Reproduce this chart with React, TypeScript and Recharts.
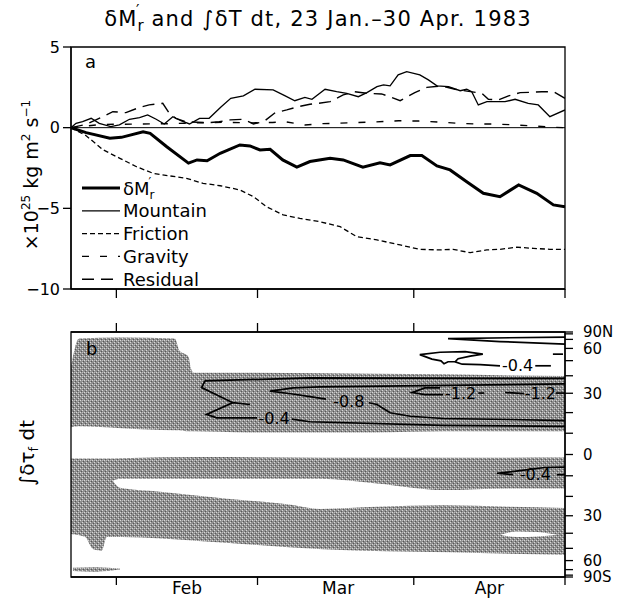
import React from 'react'
import {
  ComposedChart, Line, Area, Scatter, XAxis, YAxis,
  ReferenceLine, ReferenceArea, Legend,
} from 'recharts'

const FONT = "'DejaVu Sans', 'Liberation Sans', sans-serif"

// ── Panel a: days after 23 Jan 1983, values ×10^25 kg m² s⁻¹ ──────────────────

const dmDays = [0, 3, 7.7, 10, 14.3, 15.7, 19, 23.3, 25, 27, 29.6, 33.5, 35.5, 37.5, 39.5, 42, 44.8, 47.4, 51.4, 54, 57.9, 61.3, 63.3, 67.3, 69.6, 72.6, 75.2, 78.5, 81.8, 85.1, 88.8, 92.4, 95.7, 98]
const dmVals = [0, -0.31, -0.66, -0.6, -0.25, -0.35, -1.18, -2.2, -2.0, -2.05, -1.59, -1.07, -1.13, -1.38, -1.34, -2.0, -2.45, -2.1, -1.9, -2.0, -2.45, -2.17, -2.31, -1.73, -1.73, -2.37, -2.62, -3.35, -4.07, -4.28, -3.55, -4.07, -4.79, -4.9]

const mtDays = [0, 1, 2.3, 4, 5.6, 7.9, 9.6, 11.6, 13.6, 15.2, 16.9, 18.5, 20.2, 21.8, 23.5, 25.5, 27.4, 29.8, 31.7, 34.2, 36.5, 40.1, 42.5, 44.4, 46.4, 47.8, 50.4, 52.7, 54.7, 57, 58.7, 60.7, 62, 63.3, 64.9, 66.6, 69.2, 70.9, 72.6, 74.9, 77.2, 78.5, 79.5, 80.8, 82.5, 86.1, 88.1, 90.7, 92.7, 95, 98]
const mtVals = [0, 0.27, 0.37, 0.58, 0.27, 0.06, 0.17, 0.52, 0.62, 0.79, 0.52, 0.23, 0.68, 0.43, 0.23, 0.58, 0.58, 1.3, 1.82, 1.97, 2.38, 2.34, 1.97, 1.67, 1.88, 1.76, 2.38, 2.23, 2.13, 1.92, 2.17, 2.54, 2.65, 2.59, 3.27, 3.47, 3.27, 2.96, 2.59, 2.54, 2.29, 2.38, 2.23, 1.41, 1.61, 1.61, 1.76, 1.51, 1.41, 0.68, 1.1]

const frDays = [0, 3, 6.4, 9.7, 13, 16.3, 19.6, 22.9, 26.2, 29.6, 33.5, 36.2, 38.8, 42.1, 45.4, 49.4, 53.4, 56.7, 60.7, 65.3, 69.2, 73.2, 75.8, 79.2, 82.5, 85.1, 88.4, 91.7, 95, 98]
const frVals = [0, -0.5, -1.38, -1.9, -2.42, -2.83, -2.99, -3.14, -3.45, -3.6, -3.86, -4.28, -4.9, -5.41, -5.62, -5.83, -6.14, -6.76, -6.96, -7.27, -7.54, -7.58, -7.54, -7.75, -7.58, -7.54, -7.41, -7.48, -7.54, -7.54]

const gvDays = [0, 3, 6, 12, 20, 25, 30, 36, 40, 42.5, 46.4, 50, 55, 60, 65, 69, 73, 76.7, 80, 84, 88, 92, 96, 98]
const gvVals = [0, 0.1, 0.2, 0.22, 0.25, 0.3, 0.33, 0.3, 0.32, 0.37, 0.17, 0.25, 0.3, 0.35, 0.43, 0.41, 0.35, 0.27, 0.23, 0.23, 0.17, 0.1, 0.02, 0]

const rsDays = [0, 3, 6.3, 8.3, 10.9, 13.6, 15.5, 18.2, 19.5, 20.8, 22.8, 27.4, 29.4, 31.6, 34.2, 36.2, 38.2, 40.5, 42.8, 45.1, 47.4, 49.1, 51.4, 54, 56.3, 58.7, 61.6, 63.6, 65.3, 68.2, 70.6, 73.5, 76.2, 81.5, 82.8, 84.8, 86.8, 89.1, 91.4, 93.4, 95.7, 98]
const rsVals = [0, 0.2, 0.68, 0.99, 0.93, 1.26, 1.41, 1.51, 0.89, 0.58, 0.37, 0.31, 0.37, 0.48, 0.52, 0.23, 0.37, 0.93, 1.1, 1.3, 1.45, 1.51, 1.61, 2.03, 2.23, 2.13, 2.09, 1.88, 1.67, 2.17, 2.5, 2.59, 2.38, 2.13, 1.76, 1.72, 1.97, 2.17, 2.19, 2.23, 2.23, 1.82]

const aTicks = [-10, -5, 0, 5]

// month edges (1 Feb, 1 Mar, 1 Apr, 1 May) and label centres
const monthEdges = [9, 37, 68, 98]
const monthMids = [23, 53, 83]
const monthNames = ['Feb', 'Mar', 'Apr']

const legendNames = ['Mountain', 'Friction', 'Gravity', 'Residual']

// ── Panel b: latitudes in degrees, drawn on a sin(lat) axis ───────────────────

const latTicks = [90, 80, 70, 60, 50, 40, 30, 20, 10, 0, -10, -20, -30, -40, -50, -60, -70, -80, -90]
const latNames: Record<number, string> = { 90: '90N', 60: '60', 30: '30', 0: '0', [-30]: '30', [-60]: '60', [-90]: '90S' }

// shaded band, northern subtropics
const bnDays = [0, 1.6, 10, 20.6, 21.5, 23.3, 23.8, 24.4, 35, 50, 60, 74, 87, 98]
const bnHi = [45.1, 71.2, 72.7, 71.2, 58.0, 53.0, 44.4, 41.8, 41.8, 41.5, 41.2, 40.9, 40.2, 39.9]
const bnLo = [12.8, 13.3, 12.4, 11.4, 11.4, 10.9, 10.9, 10.9, 10.4, 10.4, 10.4, 10.9, 10.9, 10.9]

// shaded band, southern hemisphere
const bsDays = [0, 2.8, 4.4, 6.1, 7.1, 10, 26, 50, 75, 98]
const bsHi = [-1.9, -1.9, -1.9, -1.9, -1.9, -1.7, -1.2, -1.5, -1.5, -1.4]
const bsLo = [-40.5, -42.4, -50.7, -51.7, -42.4, -42.4, -45.1, -50.7, -53.0, -55.0]

// unshaded gap inside the southern band
const gpDays = [8.3, 9.7, 17.7, 31, 44, 49.4, 60.7, 73.8, 87, 98]
const gpHi = [-12.4, -11.4, -11.4, -11.4, -11.4, -11.4, -13.7, -16.9, -16.1, -16.1]
const gpLo = [-12.4, -15.8, -17.7, -21.2, -24.3, -26.4, -25.3, -24.5, -25.3, -25.9]

// small unshaded lens near 40S
const lnDays = [85.1, 88.5, 92.5, 96.6]
const lnHi = [-41, -38.9, -39.3, -41]
const lnLo = [-41, -42.4, -42, -41]

// thin shaded streak near the south pole
const skDays = [0.4, 5, 9.7]
const skHi = [-67.5, -67, -68.5]
const skLo = [-72, -73, -70]

// contour pieces [day, lat]
const cMid04a: [number, number][] = [[98, 38.4], [47.4, 38.7], [26.6, 36.9], [25.9, 33.1], [32.1, 25.0], [35.5, 24.1], [32.1, 25.0], [26.9, 19.1], [28.9, 17.4], [36.9, 17.4]]
const cMid04b: [number, number][] = [[43.8, 16.8], [47.4, 15.5], [73.8, 13.8], [98, 13.3]]
const cMid08a: [number, number][] = [[98, 35.2], [49.4, 33.5], [44.1, 32.9], [39.5, 31.2], [44, 29.6], [47.4, 28.2], [50.6, 26.9]]
const cMid08b: [number, number][] = [[59.1, 25.0], [60.7, 24.1], [63.3, 19.9], [67.3, 18.2], [73.8, 17.1], [87.1, 16.6], [98, 16.1]]
const cMid12a: [number, number][] = [[73.2, 32.9], [70.2, 32.9], [67.7, 30.4], [70.2, 29.3], [73.8, 29.3]]
const cMid12b: [number, number][] = [[80.8, 30.1], [82, 30.1]]
const cMid12c: [number, number][] = [[86.1, 30.4], [89.9, 29.8]]
const cMid12d: [number, number][] = [[96.2, 30.1], [98, 30.1]]
const cHigh04a: [number, number][] = [[76.2, 49.2], [74.8, 49.2], [74, 47.8], [73.4, 49.9], [71.6, 51.1], [69.2, 54.6], [73.2, 56.6], [78.2, 57.1], [81.7, 55.0], [79.2, 53.4], [76.8, 51.4], [76.2, 49.2], [77.6, 47.5], [81.2, 47.2], [85.1, 46.4]]
const cHigh04b: [number, number][] = [[92.1, 46.4], [95.2, 46.4]]
const cHigh04c: [number, number][] = [[95.6, 55.0], [97.6, 55.0]]
const cPole: [number, number][] = [[98, 73.5], [74.8, 71.2], [85.1, 67.2], [98, 64.3]]
const cSouth04a: [number, number][] = [[98, -5.9], [94, -6.1], [89.1, -7.6], [84.5, -8.8], [87.7, -9.5]]
const cSouth04b: [number, number][] = [[96.4, -9.5], [98, -9.5]]

const labelDays = [40.3, 55.1, 77.3, 93.1, 88.6, 92.1]
const labelLats = [17.2, 25.9, 29.9, 29.9, 47.1, -9.5]
const labelTexts = ['-0.4', '-0.8', '-1.2', '-1.2', '-0.4', '-0.4']

// ── helpers ───────────────────────────────────────────────────────────────────

const sinLat = (lat: number) => Math.sin((lat * Math.PI) / 180)
const zip = (days: number[], vals: number[]) => days.map((day, i) => ({ day, v: vals[i] }))
const band = (days: number[], lo: number[], hi: number[]) =>
  days.map((day, i) => ({ day, r: [sinLat(lo[i]), sinLat(hi[i])] }))
const path = (pts: [number, number][]) => pts.map(([day, lat]) => ({ day, s: sinLat(lat) }))

const contours = [cMid04a, cMid04b, cMid08a, cMid08b, cMid12a, cMid12b, cMid12c, cMid12d,
  cHigh04a, cHigh04b, cHigh04c, cPole, cSouth04a, cSouth04b]
const labelData = labelDays.map((day, i) => ({ day, s: sinLat(labelLats[i]), t: labelTexts[i] }))

const fmtSigned = (v: number) => (v < 0 ? `\u2212${-v}` : `${v}`)
const fmtLat = (v: number) => latNames[Math.round((Math.asin(Math.max(-1, Math.min(1, v))) * 180) / Math.PI)] ?? ''

const AX = { stroke: '#000', strokeWidth: 1.3 }

const STYLE = {
  dm: { strokeWidth: 3 },
  mt: { strokeWidth: 1.3 },
  fr: { strokeWidth: 1.3, strokeDasharray: '5 3' },
  gv: { strokeWidth: 1.4, strokeDasharray: '7 11' },
  rs: { strokeWidth: 1.4, strokeDasharray: '12 7' },
}

// ── Legend ────────────────────────────────────────────────────────────────────

function LegendBox() {
  const keys: (keyof typeof STYLE)[] = ['dm', 'mt', 'fr', 'gv', 'rs']
  return (
    <svg width={150} height={120} style={{ overflow: 'visible' }}>
      {keys.map((k, i) => {
        const y = 12 + i * 22.8
        return (
          <g key={k}>
            <line x1={2} x2={40} y1={y} y2={y} stroke="#000" {...STYLE[k]} />
            {i === 0 ? (
              <text x={43} y={y + 6.5} fontSize={18} fontFamily={FONT}>
                δM<tspan fontSize={12} dy={4}>r</tspan><tspan fontSize={12} dx={-6} dy={-13}>′</tspan>
              </text>
            ) : (
              <text x={43} y={y + 6.5} fontSize={18} fontFamily={FONT}>{legendNames[i - 1]}</text>
            )}
          </g>
        )
      })}
    </svg>
  )
}

// ── Panel a ───────────────────────────────────────────────────────────────────

function PanelA() {
  return (
    <ComposedChart width={624} height={301} margin={{ top: 47, right: 59, bottom: 0, left: 21 }}>
      <XAxis
        type="number" dataKey="day" domain={[0, 98]} ticks={monthEdges} interval={0}
        height={12} tickSize={9} tickFormatter={() => ''} axisLine={AX} tickLine={AX} allowDataOverflow
      />
      <YAxis
        type="number" domain={[-10, 5]} ticks={aTicks} interval={0} width={50}
        tickSize={8} tickMargin={3} tickFormatter={fmtSigned}
        tick={{ fontSize: 16, fill: '#000', fontFamily: FONT }}
        axisLine={AX} tickLine={AX} allowDataOverflow
      />
      <ReferenceLine y={0} stroke="#000" strokeWidth={1} />
      <Line data={zip(frDays, frVals)} dataKey="v" type="linear" stroke="#000" {...STYLE.fr} dot={false} isAnimationActive={false} />
      <Line data={zip(gvDays, gvVals)} dataKey="v" type="linear" stroke="#000" {...STYLE.gv} dot={false} isAnimationActive={false} />
      <Line data={zip(rsDays, rsVals)} dataKey="v" type="linear" stroke="#000" {...STYLE.rs} dot={false} isAnimationActive={false} />
      <Line data={zip(mtDays, mtVals)} dataKey="v" type="linear" stroke="#000" {...STYLE.mt} dot={false} isAnimationActive={false} />
      <Line data={zip(dmDays, dmVals)} dataKey="v" type="linear" stroke="#000" {...STYLE.dm} dot={false} isAnimationActive={false} />
      <ReferenceArea x1={0} x2={98} y1={-10} y2={5} fill="none" stroke="#000" strokeWidth={1.3} />
      <Legend
        content={() => <LegendBox />}
        layout="vertical" align="center" verticalAlign="middle"
        wrapperStyle={{ left: 80, top: 176, width: 150, height: 120 }}
      />
    </ComposedChart>
  )
}

// ── Panel b ───────────────────────────────────────────────────────────────────

function MonthTick(props: any) {
  const { x, y, payload } = props
  const v = payload.value
  if (monthEdges.includes(v)) {
    return <line x1={x} x2={x} y1={y} y2={y + 8} stroke="#000" strokeWidth={1.3} />
  }
  const i = monthMids.indexOf(v)
  return (
    <text x={x} y={y + 17} textAnchor="middle" fontSize={17} fontFamily={FONT} fill="#000">
      {monthNames[i]}
    </text>
  )
}

const Blank = () => <g />

function ContourLabel(props: any) {
  const { cx, cy, payload } = props
  return (
    <text x={cx} y={cy} dy="0.36em" textAnchor="middle" fontSize={16} fontFamily={FONT} fill="#000">
      {payload.t}
    </text>
  )
}

function PanelB() {
  const bottomTicks = [...monthEdges, ...monthMids].sort((a, b) => a - b)
  return (
    <ComposedChart width={624} height={301} margin={{ top: 20, right: 0, bottom: 0, left: 71 }}>
      <defs>
        <pattern id="stip" width="4" height="4" patternUnits="userSpaceOnUse">
          <rect width="4" height="4" fill="#8e8e8e" />
          <rect x="0" y="0" width="1" height="1" fill="#d8d8d8" />
          <rect x="2" y="2" width="1" height="1" fill="#d8d8d8" />
          <rect x="2" y="0" width="1" height="1" fill="#bcbcbc" />
          <rect x="1" y="3" width="1" height="1" fill="#575757" />
          <rect x="3" y="1" width="1" height="1" fill="#575757" />
        </pattern>
      </defs>
      <XAxis
        type="number" dataKey="day" domain={[0, 98]} ticks={bottomTicks} interval={0}
        height={24} tickSize={0} tickMargin={0} tickLine={false} tick={<MonthTick />}
        axisLine={AX} allowDataOverflow
      />
      <XAxis
        xAxisId="top" orientation="top" type="number" dataKey="day" domain={[0, 98]}
        ticks={[9, 37, 68]} interval={0} height={12} tickSize={9} tickFormatter={() => ''}
        axisLine={AX} tickLine={AX} allowDataOverflow
      />
      <YAxis
        orientation="right" type="number" domain={[-1, 1]} ticks={latTicks.map(sinLat)} interval={0}
        width={59} tickSize={8} tickMargin={10} tickFormatter={fmtLat}
        tick={{ fontSize: 15, fill: '#000', fontFamily: FONT }}
        axisLine={AX} tickLine={AX} allowDataOverflow
      />
      <Area data={band(bnDays, bnLo, bnHi)} dataKey="r" type="monotone" stroke="none" fill="url(#stip)" fillOpacity={1} isAnimationActive={false} />
      <Area data={band(bsDays, bsLo, bsHi)} dataKey="r" type="monotone" stroke="none" fill="url(#stip)" fillOpacity={1} isAnimationActive={false} />
      <Area data={band(skDays, skLo, skHi)} dataKey="r" type="monotone" stroke="none" fill="url(#stip)" fillOpacity={1} isAnimationActive={false} />
      <Area data={band(gpDays, gpLo, gpHi)} dataKey="r" type="monotone" stroke="none" fill="#fff" fillOpacity={1} isAnimationActive={false} />
      <Area data={band(lnDays, lnLo, lnHi)} dataKey="r" type="monotone" stroke="none" fill="#fff" fillOpacity={1} isAnimationActive={false} />
      {contours.map((c, i) => (
        <Scatter
          key={i} data={path(c)} dataKey="s" shape={Blank} isAnimationActive={false}
          line={{ stroke: '#000', strokeWidth: 1.7 }} lineType="joint"
        />
      ))}
      <Scatter data={labelData} dataKey="s" shape={ContourLabel} isAnimationActive={false} />
      <ReferenceArea x1={0} x2={98} y1={-1} y2={1} fill="none" stroke="#000" strokeWidth={1.3} />
    </ComposedChart>
  )
}

// ── Page ──────────────────────────────────────────────────────────────────────

export default function App() {
  return (
    <div style={{ position: 'absolute', left: 0, top: 0, width: 624, height: 601, background: '#fff', fontFamily: FONT }}>
      <div style={{ position: 'absolute', left: 0, top: 0 }}>
        <PanelA />
      </div>
      <div style={{ position: 'absolute', left: 0, top: 300 }}>
        <PanelB />
      </div>
      <svg width={624} height={601} style={{ position: 'absolute', left: 0, top: 0, pointerEvents: 'none' }}>
        <text x={318} y={26} textAnchor="middle" fontSize={21} letterSpacing={1.2} fontFamily={FONT}>
          δM<tspan fontSize={15} dy={5}>r</tspan><tspan fontSize={15} dx={-9} dy={-15}>′</tspan>
          <tspan dx={11} dy={10}>and ∫δT dt, 23 Jan.–30 Apr. 1983</tspan>
        </text>
        <text transform="translate(38,175) rotate(-90)" textAnchor="middle" fontSize={19} fontFamily={FONT}>
          ×10<tspan fontSize={12} dy={-8}>25</tspan><tspan dy={8}> kg m</tspan>
          <tspan fontSize={12} dy={-8}>2</tspan><tspan dy={8}> s</tspan>
          <tspan fontSize={12} dy={-8}>−1</tspan>
        </text>
        <text transform="translate(34,453) rotate(-90)" textAnchor="middle" fontSize={20} fontFamily={FONT}>
          ∫δτ<tspan fontSize={13} dy={4}>f</tspan><tspan dy={-4}> dt</tspan>
        </text>
        <text x={85} y={68} fontSize={18} fontFamily={FONT}>a</text>
        <text x={86} y={355} fontSize={18} fontFamily={FONT}>b</text>
      </svg>
    </div>
  )
}
